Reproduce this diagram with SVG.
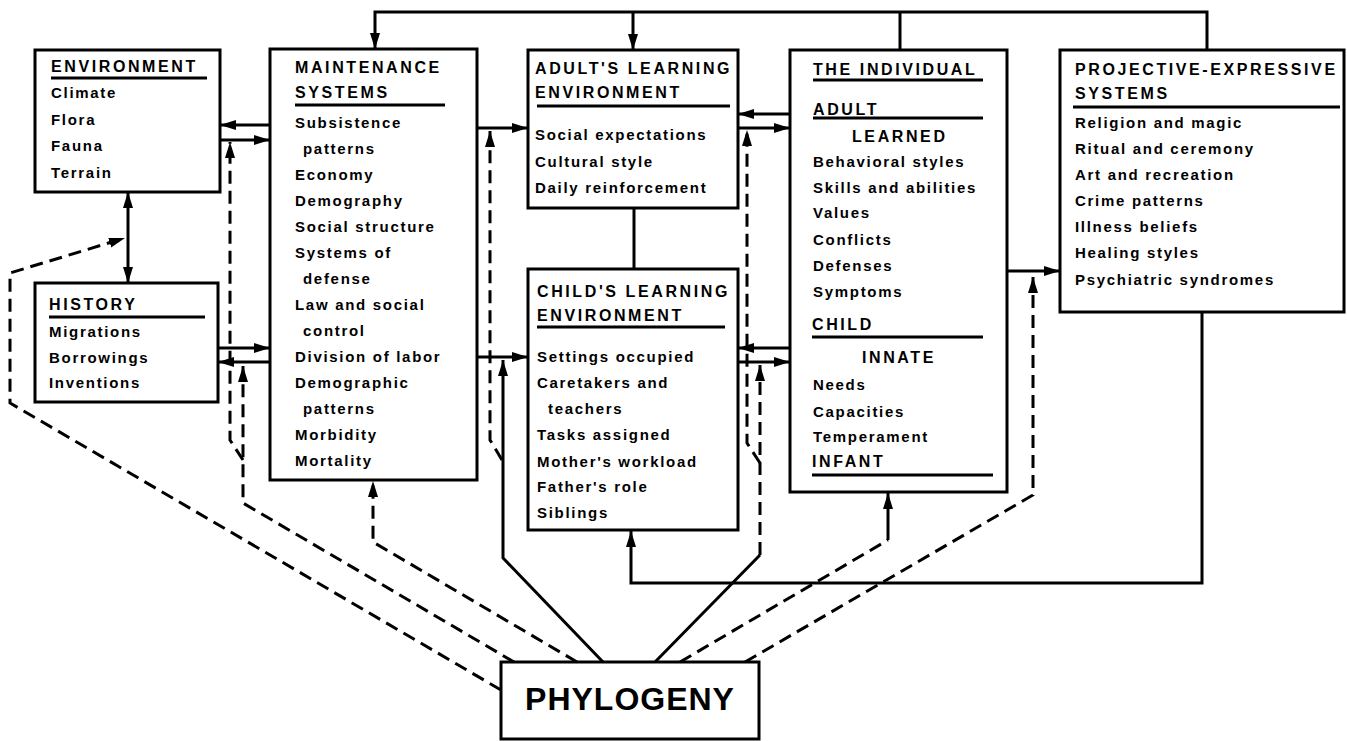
<svg xmlns="http://www.w3.org/2000/svg" width="1347" height="741" viewBox="0 0 1347 741">
<defs>
<marker id="ah" markerUnits="userSpaceOnUse" markerWidth="18" markerHeight="12" refX="16" refY="5" orient="auto"><path d="M0,0 L16,5 L0,10 z" fill="#000"/></marker>
</defs>
<style>
.box{fill:#fff;stroke:#000;stroke-width:3}
.h{font-family:"Liberation Sans",Arial,sans-serif;font-weight:bold;font-size:16px;letter-spacing:2.6px;fill:#000}
.t{font-family:"Liberation Sans",Arial,sans-serif;font-weight:bold;font-size:15px;letter-spacing:1.7px;fill:#000}
.ul{stroke:#000;stroke-width:3}
.c{fill:none;stroke:#000;stroke-width:3}
.d{fill:none;stroke:#000;stroke-width:3;stroke-dasharray:13 7}
.a{marker-end:url(#ah)}
</style>
<rect width="1347" height="741" fill="#fff"/>

<g id="environment">
<rect class="box" x="35" y="50" width="185" height="142"/>
<text class="h" x="51" y="72">ENVIRONMENT</text>
<line class="ul" x1="51" y1="78" x2="207" y2="78"/>
<text class="t" x="51" y="98">Climate</text>
<text class="t" x="51" y="125">Flora</text>
<text class="t" x="51" y="151">Fauna</text>
<text class="t" x="51" y="178">Terrain</text>
</g>

<g id="history">
<rect class="box" x="35" y="283" width="183" height="119"/>
<text class="h" x="49" y="310">HISTORY</text>
<line class="ul" x1="49" y1="317" x2="205" y2="317"/>
<text class="t" x="49" y="337">Migrations</text>
<text class="t" x="49" y="363">Borrowings</text>
<text class="t" x="49" y="388">Inventions</text>
</g>

<g id="maintenance">
<rect class="box" x="270" y="49" width="207" height="431"/>
<text class="h" x="295" y="73">MAINTENANCE</text>
<text class="h" x="295" y="98">SYSTEMS</text>
<line class="ul" x1="295" y1="105" x2="445" y2="105"/>
<text class="t" x="295" y="128">Subsistence</text>
<text class="t" x="303" y="154">patterns</text>
<text class="t" x="295" y="180">Economy</text>
<text class="t" x="295" y="206">Demography</text>
<text class="t" x="295" y="232">Social structure</text>
<text class="t" x="295" y="258">Systems of</text>
<text class="t" x="303" y="284">defense</text>
<text class="t" x="295" y="310">Law and social</text>
<text class="t" x="303" y="336">control</text>
<text class="t" x="295" y="362">Division of labor</text>
<text class="t" x="295" y="388">Demographic</text>
<text class="t" x="303" y="414">patterns</text>
<text class="t" x="295" y="440">Morbidity</text>
<text class="t" x="295" y="466">Mortality</text>
</g>

<g id="adult-learning">
<rect class="box" x="528" y="50" width="210" height="158"/>
<text class="h" x="535" y="74">ADULT'S LEARNING</text>
<text class="h" x="535" y="98">ENVIRONMENT</text>
<line class="ul" x1="537" y1="106" x2="730" y2="106"/>
<text class="t" x="535" y="140">Social expectations</text>
<text class="t" x="535" y="167">Cultural style</text>
<text class="t" x="535" y="193">Daily reinforcement</text>
</g>

<g id="child-learning">
<rect class="box" x="528" y="269" width="210" height="261"/>
<text class="h" x="537" y="297">CHILD'S LEARNING</text>
<text class="h" x="537" y="321">ENVIRONMENT</text>
<line class="ul" x1="537" y1="327" x2="725" y2="327"/>
<text class="t" x="537" y="362">Settings occupied</text>
<text class="t" x="537" y="388">Caretakers and</text>
<text class="t" x="548" y="414">teachers</text>
<text class="t" x="537" y="440">Tasks assigned</text>
<text class="t" x="537" y="467">Mother's workload</text>
<text class="t" x="537" y="492">Father's role</text>
<text class="t" x="537" y="518">Siblings</text>
</g>

<g id="individual">
<rect class="box" x="790" y="50" width="217" height="442"/>
<text class="h" x="813" y="75">THE INDIVIDUAL</text>
<line class="ul" x1="813" y1="80" x2="983" y2="80"/>
<text class="h" x="813" y="115">ADULT</text>
<line class="ul" x1="813" y1="118" x2="983" y2="118"/>
<text class="h" x="852" y="142">LEARNED</text>
<text class="t" x="813" y="167">Behavioral styles</text>
<text class="t" x="813" y="193">Skills and abilities</text>
<text class="t" x="813" y="218">Values</text>
<text class="t" x="813" y="245">Conflicts</text>
<text class="t" x="813" y="271">Defenses</text>
<text class="t" x="813" y="297">Symptoms</text>
<text class="h" x="812" y="330">CHILD</text>
<line class="ul" x1="812" y1="337" x2="983" y2="337"/>
<text class="h" x="862" y="363">INNATE</text>
<text class="t" x="813" y="390">Needs</text>
<text class="t" x="813" y="417">Capacities</text>
<text class="t" x="813" y="442">Temperament</text>
<text class="h" x="812" y="467">INFANT</text>
<line class="ul" x1="812" y1="475" x2="993" y2="475"/>
</g>

<g id="projective">
<rect class="box" x="1060" y="50" width="284" height="262"/>
<text class="h" x="1075" y="75">PROJECTIVE-EXPRESSIVE</text>
<text class="h" x="1075" y="99">SYSTEMS</text>
<line class="ul" x1="1073" y1="107" x2="1340" y2="107"/>
<text class="t" x="1075" y="128">Religion and magic</text>
<text class="t" x="1075" y="154">Ritual and ceremony</text>
<text class="t" x="1075" y="180">Art and recreation</text>
<text class="t" x="1075" y="206">Crime patterns</text>
<text class="t" x="1075" y="232">Illness beliefs</text>
<text class="t" x="1075" y="258">Healing styles</text>
<text class="t" x="1075" y="285">Psychiatric syndromes</text>
</g>

<g id="phylogeny">
<rect class="box" x="501" y="662" width="258" height="77"/>
<text x="630" y="710" text-anchor="middle" style="font-family:'Liberation Sans',Arial,sans-serif;font-weight:bold;font-size:32px;letter-spacing:1px">PHYLOGENY</text>
</g>

<g id="connectors">
<path class="c a" d="M1207,50 V12 H375 V49"/>
<path class="c a" d="M633,12 V50"/>
<path class="c" d="M900,12 V50"/>
<path class="c a" d="M128,238 V192"/>
<path class="c a" d="M128,238 V283"/>
<path class="d a" d="M501,690 L10,403 V273 L125,238"/>
<path class="c a" d="M270,125 H220"/>
<path class="c a" d="M220,140 H270"/>
<path class="c a" d="M218,348 H270"/>
<path class="c a" d="M270,362 H218"/>
<path class="d a" d="M514,662 L243,503 V366"/>
<path class="d a" d="M243,460 L230,440 V142"/>
<path class="d a" d="M577,662 L373,542 V481"/>
<path class="c a" d="M477,128 H528"/>
<path class="c a" d="M477,357 H528"/>
<path class="d a" d="M502,460 L490,440 V131"/>
<path class="c a" d="M603,662 L503,558 V360"/>
<path class="c" d="M634,208 V269"/>
<path class="c a" d="M790,114 H738"/>
<path class="c a" d="M738,128 H790"/>
<path class="c a" d="M790,348 H738"/>
<path class="c a" d="M738,362 H790"/>
<path class="d a" d="M760,463 L747,443 V130"/>
<path class="c" d="M655,662 L760,555"/>
<path class="d a" d="M760,555 V365"/>
<path class="d" d="M680,662 L888,540"/>
<path class="c a" d="M888,540 V493"/>
<path class="c a" d="M1007,271 H1060"/>
<path class="d a" d="M745,662 L1033,495 V277"/>
<path class="c a" d="M1202,312 V583 H631 V531"/>
</g>
</svg>
